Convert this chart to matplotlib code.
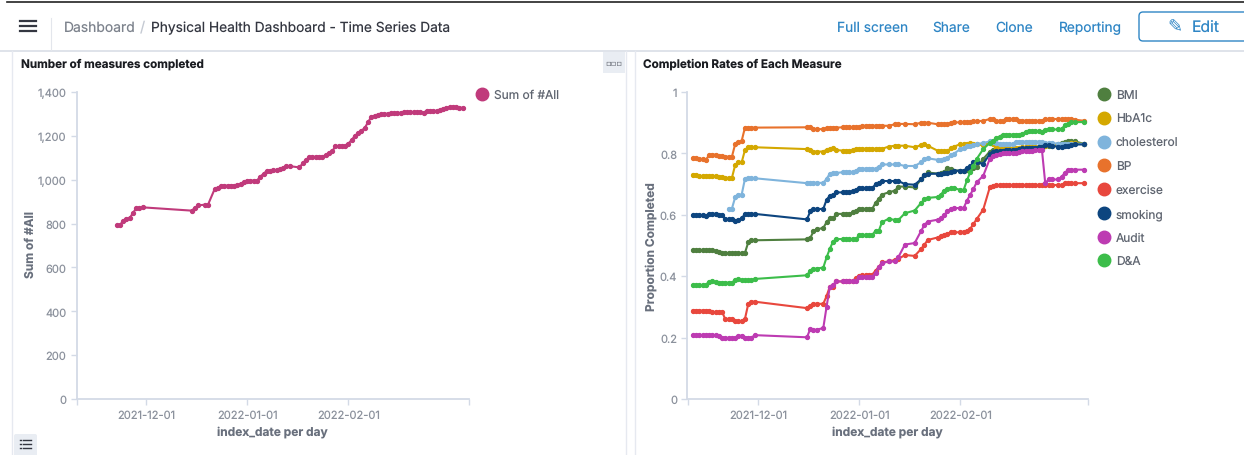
import pandas as pd
import matplotlib
matplotlib.use("Agg")
import matplotlib.pyplot as plt
from matplotlib.patches import Rectangle, FancyBboxPatch

plt.rcParams["font.family"] = ["Inter", "DejaVu Sans"]
plt.rcParams["text.hinting"] = "no_hinting"

base_date = pd.Timestamp("2021-12-01")
tick_dates = ["2021-12-01", "2022-01-01", "2022-02-01"]

# left chart
total_days = [-9, -8, -7, -6, -5, -4, -3, -2, -1,
              14, 15, 16, 18, 19, 21, 22, 23, 24, 25, 26, 27, 28, 29, 30, 31, 32, 33, 34,
              35, 36, 37, 38, 39, 40, 41, 42, 43, 44, 47, 48, 49, 50, 51, 52, 53, 54, 55,
              56, 57, 58, 59, 60, 61, 62, 63, 64, 65, 66, 67, 68, 69, 70, 71, 72, 73, 74,
              75, 76, 77, 78, 79, 80, 81, 82, 83, 84, 85, 86, 87, 88, 89, 90, 91, 92, 93,
              94, 95, 96, 97]
total_all = [792, 792, 813, 822, 824, 848, 869, 872, 874,
             859, 871, 883, 886, 886, 956, 962, 973, 973, 973, 973, 973, 976, 982, 988, 996, 996, 996, 996,
             1014, 1027, 1040, 1042, 1044, 1044, 1049, 1055, 1061, 1062, 1056, 1075, 1090, 1103, 1104, 1105, 1105, 1105, 1112,
             1122, 1129, 1152, 1154, 1154, 1155, 1165, 1181, 1201, 1212, 1224, 1236, 1262, 1287, 1292, 1296, 1298, 1300, 1301,
             1302, 1303, 1304, 1305, 1307, 1309, 1309, 1308, 1308, 1307, 1305, 1315, 1315, 1315, 1313, 1316, 1322, 1328, 1331,
             1333, 1330, 1328, 1328]

# right chart
rate_days = [-20, -19, -18, -17, -16, -15, -14, -13, -12, -11, -10, -9, -8, -7, -6, -5, -4, -3, -2, -1,
             15, 16, 17, 18, 20, 21, 22, 23, 24, 26, 27, 28, 29, 30, 31, 32, 33, 34, 35, 36, 37, 38, 40,
             42, 43, 45, 48, 50, 51, 52, 55, 56, 57,
             58, 59, 60, 62, 63, 64, 65, 66, 67, 69,
             71, 72, 73, 74, 75, 76, 77, 78, 79, 80,
             81, 82, 83, 84, 85, 86, 87, 88, 89, 90,
             92, 93, 94, 95, 96, 97, 100]

bmi = [.485, .485, .484, .484, .484, .484, .484, .482, .478, .474, .474, .474, .474, .474, .474, .474, .476, .510, .517, .517,
       .520, .524, .546, .553, .557, .576, .588, .588, .603, .603, .602, .602, .608, .613, .619, .619, .619, .619, .619, .639, .652, .666, .673,
       .679, .692, .692, .689, .716, .729, .738, .734, .736, .740,
       .751, .749, .744, .744, .744, .747, .749, .754, .755, .782,
       .806, .812, .814, .814, .813, .812, .812, .812, .812, .814,
       .816, .817, .817, .817, .817, .818, .820, .824, .825, .825,
       .831, .834, .837, .839, .839, .839, .831]
hba1c = [.731, .731, .728, .725, .725, .725, .725, .725, .724, .722, .720, .720, .720, .762, .771, .771, .811, .820, .820, .820,
         .814, .811, .806, .806, .806, .812, .815, .816, .811, .809, .809, .809, .810, .814, .815, .815, .815, .815, .815, .815, .815, .815, .822,
         .825, .825, .825, .820, .827, .830, .825, .809, .807, .807,
         .807, .816, .822, .830, .831, .832, .833, .831, .829, .827,
         .834, .829, .820, .819, .817, .817, .816, .816, .816, .817,
         .820, .821, .821, .821, .822, .822, .823, .825, .827, .827,
         .828, .828, .829, .832, .834, .833, .830]
cholesterol = [None, None, None, None, None, None, None, None, None, None, None, .620, .620, .657, .666, .666, .717, .719, .719, .719,
               .703, .703, .705, .704, .704, .717, .734, .736, .736, .739, .738, .738, .738, .744, .750, .750, .750, .750, .750, .750, .757, .764, .764,
               .764, .764, .759, .759, .771, .782, .784, .779, .779, .782,
               .784, .795, .799, .814, .816, .823, .825, .828, .830, .834,
               .839, .836, .834, .831, .829, .829, .829, .832, .836, .838,
               .838, .838, .838, .838, .838, .838, .836, .834, .833, .833,
               .832, .832, .831, .831, .831, .831, .831]
bp = [.785, .785, .782, .781, .779, .794, .796, .796, .793, .790, .789, .789, .789, .830, .836, .841, .884, .884, .884, .884,
      .885, .885, .879, .879, .879, .883, .884, .884, .884, .885, .885, .885, .885, .885, .885, .890, .890, .890, .890, .890, .890, .890, .890,
      .895, .896, .896, .895, .900, .900, .900, .895, .895, .895,
      .895, .900, .901, .901, .901, .901, .901, .905, .905, .906,
      .912, .912, .906, .906, .906, .912, .912, .912, .912, .906,
      .906, .906, .906, .906, .906, .906, .906, .912, .912, .912,
      .912, .912, .912, .912, .912, .910, .906]
exercise = [.288, .288, .288, .288, .288, .288, .283, .282, .282, .284, .259, .259, .259, .254, .253, .253, .261, .309, .317, .317,
            .296, .302, .310, .310, .310, .335, .366, .366, .383, .383, .383, .383, .385, .393, .402, .403, .404, .405, .405, .418, .430, .445, .448,
            .453, .456, .469, .466, .489, .503, .518, .526, .530, .533,
            .538, .543, .543, .543, .545, .548, .554, .570, .586, .617,
            .689, .695, .697, .697, .697, .697, .697, .697, .697, .697,
            .697, .697, .697, .697, .697, .697, .697, .697, .697, .697,
            .697, .697, .702, .703, .703, .703, .703]
smoking = [.598, .598, .598, .598, .597, .603, .603, .603, .599, .600, .586, .585, .585, .580, .582, .588, .603, .603, .603, .603,
           .585, .611, .619, .619, .619, .649, .662, .664, .673, .673, .673, .673, .677, .680, .686, .686, .686, .686, .686, .700, .705, .710, .710,
           .710, .710, .700, .698, .716, .729, .733, .734, .734, .736,
           .737, .740, .743, .744, .744, .751, .758, .771, .771, .766,
           .798, .806, .808, .808, .809, .810, .810, .810, .811, .815,
           .817, .817, .817, .817, .817, .820, .822, .826, .826, .824,
           .822, .822, .823, .825, .827, .829, .829]
audit = [.208, .208, .208, .208, .208, .208, .208, .208, .206, .200, .199, .199, .199, .199, .206, .206, .200, .200, .200, .208,
         .201, .228, .224, .226, .231, .300, .366, .372, .383, .383, .383, .383, .384, .385, .396, .396, .396, .396, .396, .412, .430, .442, .448,
         .448, .462, .503, .508, .548, .567, .578, .584, .588, .599,
         .611, .619, .622, .622, .622, .646, .665, .684, .706, .727,
         .782, .792, .795, .798, .801, .801, .801, .801, .801, .805,
         .808, .809, .809, .809, .810, .810, .810, .703, .715, .715,
         .715, .724, .736, .747, .747, .747, .747]
d_and_a = [.371, .371, .371, .370, .372, .382, .383, .380, .379, .379, .379, .379, .379, .388, .390, .387, .386, .386, .387, .391,
           .403, .418, .423, .425, .428, .461, .489, .513, .521, .521, .521, .521, .521, .521, .534, .534, .534, .534, .534, .548, .548, .576, .587,
           .583, .583, .605, .614, .639, .650, .655, .658, .665, .679,
           .684, .686, .687, .681, .681, .712, .738, .758, .782, .814,
           .834, .841, .849, .855, .861, .861, .861, .861, .861, .861,
           .863, .871, .872, .872, .872, .872, .871, .877, .878, .878,
           .878, .880, .891, .896, .901, .902, .902]

rate_names = ["BMI", "HbA1c", "cholesterol", "BP", "exercise", "smoking", "Audit", "D&A"]
rate_series = [bmi, hba1c, cholesterol, bp, exercise, smoking, audit, d_and_a]
rate_colors = ["#4f7f3f", "#d4a800", "#7fb4dc", "#e8722c", "#e8473d", "#0d457f", "#bd3bb2", "#3cbd4a"]
total_color = "#c03a7b"

axis_grey = "#d3dae6"
tick_grey = "#8b919c"
label_grey = "#69707d"
link_blue = "#2f86c5"
W, H = 1244, 456

fig = plt.figure(figsize=(W / 100, H / 100), dpi=100)

# page furniture, in pixel coordinates
ui = fig.add_axes([0, 0, 1, 1], zorder=0)
ui.set_xlim(0, W)
ui.set_ylim(H, 0)
ui.axis("off")

ui.plot([7, W], [2.5, 2.5], color="#222222", lw=1.2)
ui.plot([0, W], [51.5, 51.5], color="#dfe3ea", lw=1.4)
ui.plot([51, 51], [19, 51], color="#e3e6ec", lw=0.8)
for y in [21.5, 26.5, 31.5]:
    ui.plot([20, 36], [y, y], color="#343741", lw=1.6)

ui.text(64, 28, "Dashboard", color="#7d838d", fontsize=10, va="center")
ui.text(140, 28, "/", color="#c5cad3", fontsize=10.4, va="center")
ui.text(151, 28, "Physical Health Dashboard - Time Series Data", color="#343741", fontsize=9.9, va="center")
for x, s in zip([837, 932, 995, 1059], ["Full screen", "Share", "Clone", "Reporting"]):
    ui.text(x, 28, s, color=link_blue, fontsize=9.9, va="center")
ui.add_patch(FancyBboxPatch((1139, 13), 120, 29, boxstyle="round,pad=0,rounding_size=4",
                            fc="white", ec=link_blue, lw=1))
ui.text(1175, 27, "\u270e", color=link_blue, fontsize=13, va="center", ha="center", family="DejaVu Sans")
ui.text(1192, 28, "Edit", color=link_blue, fontsize=11.3, va="center")

# panels
for x in [12, 625.5, 635]:
    ui.plot([x, x], [52, H], color="#e6e9f0", lw=1)
ui.add_patch(Rectangle((603, 53), 22, 21, fc="#e9edf3", ec="none"))
ui.text(614, 63, "\u25ab\u25ab\u25ab", color="#4a4f59", fontsize=6, ha="center", va="center", family="DejaVu Sans")
ui.add_patch(FancyBboxPatch((14, 435), 23, 24, boxstyle="round,pad=0,rounding_size=2", fc="#e9edf3", ec="none"))
for y in [441, 445, 449]:
    ui.plot([20, 21], [y, y], color="#343741", lw=1)
    ui.plot([23, 31], [y, y], color="#343741", lw=1)

ui.text(21, 64, "Number of measures completed", color="#1a1c21", fontsize=8.4, fontweight="bold", va="center")
ui.text(643, 64, "Completion Rates of Each Measure", color="#1a1c21", fontsize=8.4, fontweight="bold", va="center")

# legends
ui.plot([482], [95], "o", color=total_color, ms=9)
ui.text(494, 96, "Sum of #All", color="#5f6570", fontsize=8.6, va="center")
legend_y = [95, 119, 143, 166, 190, 214, 238, 261]
for y, name, color in zip(legend_y, rate_names, rate_colors):
    ui.plot([1104], [y], "o", color=color, ms=9)
    ui.text(1116, y + 1, name, color="#5f6570", fontsize=8.6, va="center")


def make_axes(left, right, start_day, end_day):
    ax = fig.add_axes([left / W, (H - 400) / H, (right - left) / W, 307 / H], zorder=1)
    ax.patch.set_alpha(0)
    for side in ["top", "right"]:
        ax.spines[side].set_visible(False)
    for side in ["left", "bottom"]:
        ax.spines[side].set_color(axis_grey)
        ax.spines[side].set_linewidth(1.3)
    start = base_date + pd.Timedelta(days=start_day)
    end = base_date + pd.Timedelta(days=end_day)
    ax.set_xlim(start, end)
    ax.set_xticks(pd.to_datetime(tick_dates + [start, end]))
    ax.set_xticklabels(tick_dates + ["", ""])
    ax.tick_params(color=axis_grey, labelcolor=tick_grey, labelsize=8, length=4.5, width=1, pad=3)
    ax.set_xlabel("index_date per day", color=label_grey, fontsize=8.6, fontweight="bold")
    ax.xaxis.set_label_coords(0.5, -0.084)
    return ax


ax1 = make_axes(76.7, 468.6, -21.2, 98.8)
ax1.plot(base_date + pd.to_timedelta(total_days, unit="D"), total_all, color=total_color,
         lw=1.5, marker="o", ms=2.8, clip_on=False)
ax1.set_ylim(0, 1400)
ax1.set_yticks([0, 200, 400, 600, 800, 1000, 1200, 1400])
ax1.set_yticklabels(["0", "200", "400", "600", "800", "1,000", "1,200", "1,400"])
ax1.set_ylabel("Sum of #All", color=label_grey, fontsize=8.6, fontweight="bold")
ax1.yaxis.set_label_coords(-0.104, 0.505)

ax2 = make_axes(687.5, 1088, -21.6, 101.1)
rate_dates = base_date + pd.to_timedelta(rate_days, unit="D")
for name, values, color in zip(rate_names, rate_series, rate_colors):
    ax2.plot(rate_dates, pd.Series(values, dtype=float), color=color, lw=1.5, marker="o", ms=2.8,
             clip_on=False, label=name)
ax2.set_ylim(0, 1)
ax2.set_yticks([0, 0.2, 0.4, 0.6, 0.8, 1])
ax2.set_yticklabels(["0", "0.2", "0.4", "0.6", "0.8", "1"])
ax2.set_ylabel("Proportion Completed", color=label_grey, fontsize=8.6, fontweight="bold")
ax2.yaxis.set_label_coords(-0.076, 0.5)

fig.savefig("out.png", dpi=100)
